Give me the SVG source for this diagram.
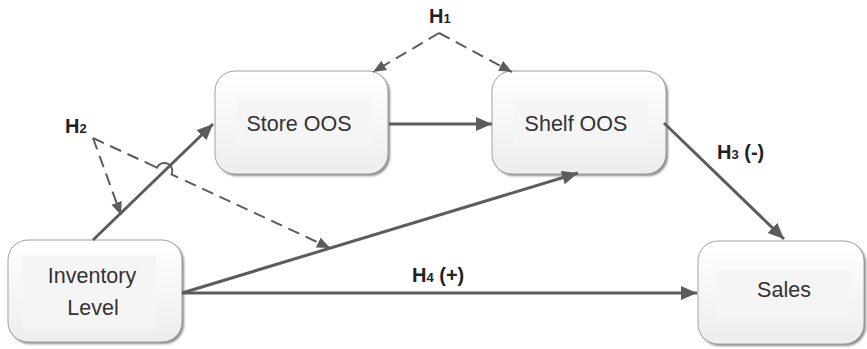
<svg xmlns="http://www.w3.org/2000/svg" width="867" height="349" viewBox="0 0 867 349">
<style>
.box{fill:url(#g);stroke:#a0a0a0;stroke-width:1}
.shadow{fill:#8a8a8a;filter:url(#blur)}
.inner{fill:#f5f5f5}
.t{font-family:"Liberation Sans",Arial,sans-serif;font-size:21.5px;fill:#333;text-anchor:middle}
.lab{font-family:"Liberation Sans",Arial,sans-serif;font-size:20px;font-weight:bold;fill:#222}
.sub{font-size:13px}
.solid{stroke:#5c5c5c;stroke-width:3;fill:none;marker-end:url(#ah)}
.dash{stroke:#5c5c5c;stroke-width:2;fill:none;stroke-dasharray:12 7}
.dasha{marker-end:url(#ahs)}
.hop{stroke:#5c5c5c;stroke-width:2;fill:none}
</style>
<defs>
<linearGradient id="g" x1="0" y1="0" x2="0" y2="1">
<stop offset="0" stop-color="#ffffff"/>
<stop offset="1" stop-color="#ededed"/>
</linearGradient>
<filter id="blur" x="-10%" y="-10%" width="120%" height="120%"><feGaussianBlur stdDeviation="1.2"/></filter>
<marker id="ah" markerUnits="userSpaceOnUse" markerWidth="18" markerHeight="16" refX="16" refY="7" orient="auto">
<path d="M0,0 L16,7 L0,14 z" fill="#5c5c5c"/>
</marker>
<marker id="ahs" markerUnits="userSpaceOnUse" markerWidth="14" markerHeight="12" refX="13" refY="5.5" orient="auto">
<path d="M0,0 L13,5.5 L0,11 z" fill="#5c5c5c"/>
</marker>
</defs>

<g id="inventory">
<rect class="shadow" x="10" y="242" width="174" height="102" rx="20"/>
<rect class="box" x="8" y="240" width="174" height="102" rx="20"/>
<rect class="inner" x="22" y="256" width="134" height="74"/>
<text class="t" x="92" y="283">Inventory</text>
<text class="t" x="93" y="315">Level</text>
</g>
<g id="store">
<rect class="shadow" x="217" y="73" width="173" height="103" rx="20"/>
<rect class="box" x="215" y="71" width="173" height="103" rx="20"/>
<rect class="inner" x="237" y="100" width="134" height="48"/>
<text class="t" x="299" y="131">Store OOS</text>
</g>
<g id="shelf">
<rect class="shadow" x="494" y="73" width="174" height="103" rx="20"/>
<rect class="box" x="492" y="71" width="174" height="103" rx="20"/>
<rect class="inner" x="514" y="100" width="134" height="48"/>
<text class="t" x="576" y="131">Shelf OOS</text>
</g>
<g id="sales">
<rect class="shadow" x="700" y="243" width="166" height="103" rx="20"/>
<rect class="box" x="698" y="241" width="166" height="103" rx="20"/>
<rect class="inner" x="716" y="270" width="134" height="48"/>
<text class="t" x="784" y="297">Sales</text>
</g>

<g id="connectors">
<line class="solid" x1="389" y1="124" x2="492" y2="124"/>
<line class="solid" x1="93" y1="240" x2="213" y2="124"/>
<line class="solid" x1="182" y1="293" x2="578" y2="173"/>
<line class="solid" x1="182" y1="293" x2="697" y2="293"/>
<line class="solid" x1="664" y1="123" x2="784" y2="239"/>
<path class="dash dasha" d="M439,33 L373,72"/>
<path class="dash dasha" d="M439,33 L512,72"/>
<path class="dash dasha" d="M93,138 L121,215"/>
<path class="dash" d="M93,138 L150,164.4"/>
<path class="hop" d="M150,164.4 L157,167.6 A8,8 0 0 1 171.6,174.4 L178,177.4"/>
<path class="dash dasha" d="M185,180.6 L330,248"/>
</g>

<g id="labels">
<text class="lab" x="429" y="23">H<tspan class="sub">1</tspan></text>
<text class="lab" x="65" y="133">H<tspan class="sub">2</tspan></text>
<text class="lab" x="717" y="159">H<tspan class="sub">3</tspan> (-)</text>
<text class="lab" x="412" y="282">H<tspan class="sub">4</tspan> (+)</text>
</g>
</svg>
